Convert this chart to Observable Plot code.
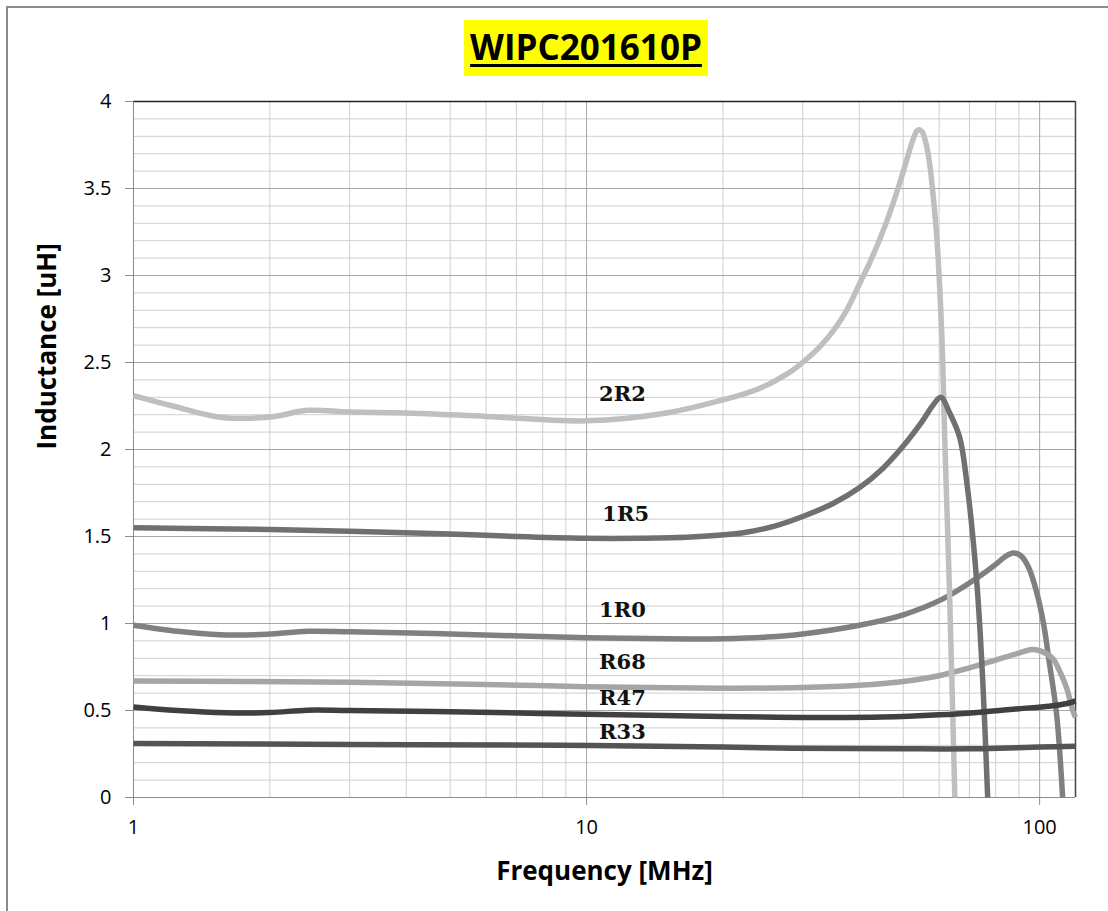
<!DOCTYPE html>
<html>
<head>
<meta charset="utf-8">
<script src="https://cdn.jsdelivr.net/npm/d3@7"></script>
<script src="https://cdn.jsdelivr.net/npm/@observablehq/plot@0.6"></script>
<style>
  html, body { margin: 0; padding: 0; background: #fff; overflow: hidden; }
  #wrap { position: relative; width: 1108px; height: 911px; overflow: hidden; }
  #frame { position: absolute; left: 6px; top: 6px; width: 1200px; height: 1000px; border: 2px solid #8c8c8c; }
  #title { position: absolute; left: 464px; top: 20px; width: 244px; height: 56px; background: #ffff00;
           font-family: "Open Sans", sans-serif; font-weight: bold; font-size: 35px; line-height: 54px;
           text-align: center; text-decoration: underline; text-decoration-thickness: 3px; text-underline-offset: 4px; color: #000; }
  #chart { position: absolute; left: 0; top: 90px; }
</style>
</head>
<body>
<div id="wrap">
  <div id="frame"></div>
  <div id="title">WIPC201610P</div>
  <div id="chart"></div>
</div>
<script>
// ---- data ----
const f2R2 = [1, 1.22, 1.55, 1.8, 2.05, 2.42, 3, 4, 6, 10, 15, 21, 22.9, 25, 26.7, 28.5, 30.6, 32.7, 35, 37.5, 40, 42.1, 44.4, 46.7, 49.1, 51.1, 52.7, 53.8, 54.9, 56, 57.2, 58.4, 59.3, 60.8, 61.7, 63.3, 65];
const L2R2 = [2.31, 2.25, 2.185, 2.18, 2.19, 2.225, 2.215, 2.21, 2.19, 2.165, 2.21, 2.30, 2.33, 2.37, 2.41, 2.455, 2.52, 2.59, 2.68, 2.80, 2.95, 3.07, 3.21, 3.36, 3.53, 3.68, 3.79, 3.835, 3.83, 3.77, 3.64, 3.42, 3.22, 2.67, 2.09, 1.15, 0];

const f1R5 = [1, 2, 3, 5, 7, 10, 13, 17, 22, 26, 30, 35, 40, 45, 50, 55, 58, 60.5, 63.3, 66.6, 69, 72.6, 74.9, 76.8];
const L1R5 = [1.55, 1.54, 1.53, 1.515, 1.50, 1.49, 1.49, 1.497, 1.52, 1.56, 1.615, 1.69, 1.78, 1.89, 2.02, 2.16, 2.25, 2.30, 2.21, 2.07, 1.82, 1.25, 0.67, 0];

const f1R0 = [1, 1.25, 1.55, 1.97, 2.42, 3, 5, 10, 15, 20, 25, 30, 40, 50, 61, 72.6, 80, 84, 87.2, 89.5, 91.7, 95, 98.5, 102, 105, 109, 112.4];
const L1R0 = [0.99, 0.955, 0.935, 0.938, 0.955, 0.952, 0.94, 0.918, 0.912, 0.913, 0.922, 0.94, 0.99, 1.05, 1.14, 1.26, 1.34, 1.385, 1.405, 1.40, 1.38, 1.31, 1.18, 1.00, 0.78, 0.48, 0];

const fR68 = [1, 3, 6, 10, 20, 30, 40, 50, 60, 70, 80, 90, 96.5, 101, 106.8, 111, 114.7, 118.3, 120];
const LR68 = [0.67, 0.662, 0.65, 0.637, 0.628, 0.632, 0.645, 0.667, 0.70, 0.745, 0.79, 0.83, 0.85, 0.84, 0.80, 0.72, 0.63, 0.50, 0.46];

const fR47 = [1, 1.25, 1.6, 2.0, 2.42, 3, 5, 10, 20, 30, 45, 60, 75, 90, 105, 115, 120];
const LR47 = [0.52, 0.50, 0.487, 0.488, 0.502, 0.50, 0.493, 0.478, 0.466, 0.46, 0.462, 0.475, 0.492, 0.51, 0.525, 0.54, 0.555];

const fR33 = [1, 3, 8.8, 20, 28.5, 50, 70, 85, 100, 120];
const LR33 = [0.31, 0.305, 0.30, 0.29, 0.283, 0.28, 0.28, 0.285, 0.29, 0.295];

// draw order: bottom to top
const seriesNames = ["1R0", "R68", "2R2", "1R5", "R47", "R33"];
const seriesColors = ["#808080", "#a5a5a5", "#bfbfbf", "#707070", "#404040", "#545454"];

const labelNames = ["2R2", "1R5", "1R0", "R68", "R47", "R33"];
const labelFreq  = [12, 12.2, 12, 12, 12, 12];
const labelL     = [2.32, 1.63, 1.075, 0.776, 0.569, 0.374];

const xTicks = [1, 10, 100];
const xMinor = [2, 3, 4, 5, 6, 7, 8, 9, 20, 30, 40, 50, 60, 70, 80, 90];
const yTicks = [0, 0.5, 1, 1.5, 2, 2.5, 3, 3.5, 4];
const yMinor = [0.1, 0.2, 0.3, 0.4, 0.6, 0.7, 0.8, 0.9, 1.1, 1.2, 1.3, 1.4, 1.6, 1.7, 1.8, 1.9,
                2.1, 2.2, 2.3, 2.4, 2.6, 2.7, 2.8, 2.9, 3.1, 3.2, 3.3, 3.4, 3.6, 3.7, 3.8, 3.9];

// ---- build table ----
const seriesData = {
  "2R2": [f2R2, L2R2], "1R5": [f1R5, L1R5], "1R0": [f1R0, L1R0],
  "R68": [fR68, LR68], "R47": [fR47, LR47], "R33": [fR33, LR33]
};
const rows = [];
for (const name of seriesNames) {
  const [fs, Ls] = seriesData[name];
  fs.forEach((f, i) => rows.push({series: name, f, L: Ls[i]}));
}
const labels = labelNames.map((t, i) => ({t, f: labelFreq[i], L: labelL[i]}));

const plot = Plot.plot({
  width: 1108,
  height: 821,
  marginLeft: 133,
  marginRight: 33,
  marginTop: 11,
  marginBottom: 114,
  style: {fontFamily: "'Open Sans', sans-serif", fontSize: "20px", color: "#000", background: "transparent", overflow: "visible"},
  x: {type: "log", domain: [1, 120]},
  y: {domain: [0, 4]},
  color: {domain: seriesNames, range: seriesColors},
  marks: [
    Plot.ruleX(xMinor, {stroke: "#cfcfcf", strokeWidth: 1}),
    Plot.ruleY(yMinor, {stroke: "#cfcfcf", strokeWidth: 1}),
    Plot.ruleX(xTicks, {stroke: "#a6a6a6", strokeWidth: 1}),
    Plot.ruleY(yTicks, {stroke: "#a6a6a6", strokeWidth: 1}),
    Plot.ruleY([4], {stroke: "#222", strokeWidth: 1.5}),
    Plot.ruleX([120], {stroke: "#444", strokeWidth: 1.5}),
    Plot.ruleX([1], {stroke: "#8c8c8c", strokeWidth: 1}),
    Plot.ruleY([0], {stroke: "#8c8c8c", strokeWidth: 1}),
    Plot.line(rows, {x: "f", y: "L", z: "series", stroke: "series", strokeWidth: 5.5, curve: "catmull-rom", strokeLinecap: "butt"}),
    Plot.text(labels, {x: "f", y: "L", text: "t", fontFamily: "'DejaVu Serif', serif", fontWeight: "bold", fontSize: 21, fill: "#111"}),
    Plot.axisX({ticks: xTicks, tickFormat: d => String(d), tickSize: 8, tickPadding: 14, stroke: "#8c8c8c", fill: "#000", fontSize: 20, label: null}),
    Plot.axisY({ticks: yTicks, tickFormat: d => String(d), tickSize: 8, tickPadding: 14, stroke: "#8c8c8c", fill: "#000", fontSize: 20, label: null}),
    Plot.text(["Frequency [MHz]"], {frameAnchor: "bottom", dy: 74, text: d => d, fontWeight: "bold", fontSize: 26, fill: "#000", lineAnchor: "middle"}),
    Plot.text(["Inductance [uH]"], {frameAnchor: "left", dx: -86, rotate: -90, text: d => d, fontWeight: "bold", fontSize: 26, fill: "#000", lineAnchor: "middle"})
  ]
});
document.getElementById("chart").appendChild(plot);
</script>
</body>
</html>
